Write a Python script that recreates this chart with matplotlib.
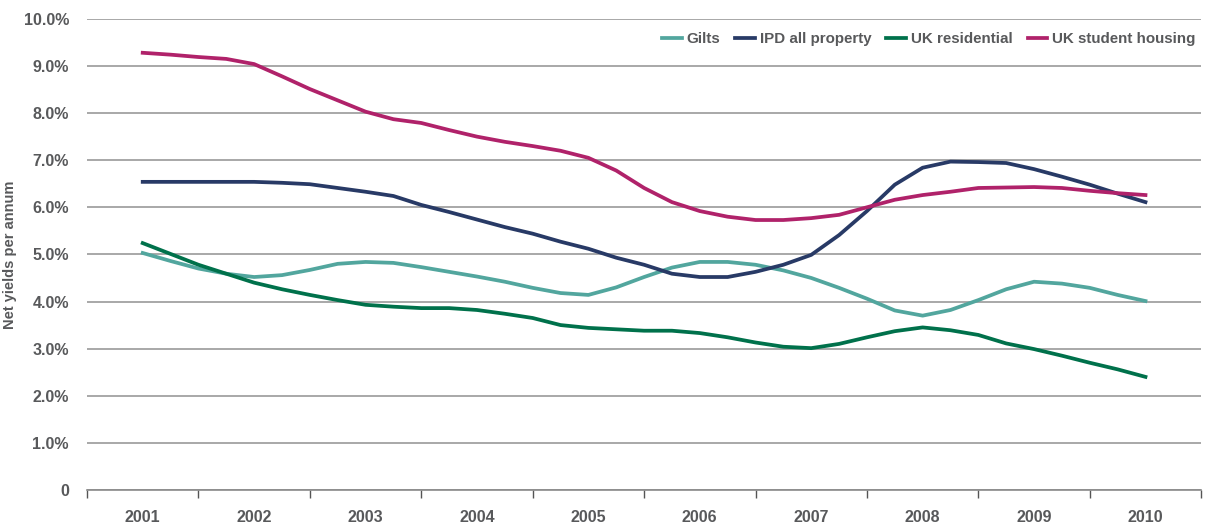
import numpy as np
import matplotlib
matplotlib.use("Agg")
import matplotlib.pyplot as plt

# quarterly readings, 2001 to 2010
years = [2001, 2002, 2003, 2004, 2005, 2006, 2007, 2008, 2009, 2010]
quarters = np.arange(37) * 0.25 + 2001

gilts = [5.03, 4.86, 4.70, 4.59, 4.52, 4.56, 4.67, 4.80, 4.84, 4.82,
         4.73, 4.63, 4.53, 4.42, 4.29, 4.18, 4.14, 4.30, 4.52, 4.72,
         4.84, 4.84, 4.78, 4.66, 4.50, 4.29, 4.06, 3.81, 3.70, 3.82,
         4.03, 4.26, 4.42, 4.38, 4.29, 4.14, 4.01]
ipd = [6.54, 6.54, 6.54, 6.54, 6.54, 6.52, 6.49, 6.41, 6.33, 6.24,
       6.05, 5.90, 5.74, 5.58, 5.44, 5.27, 5.12, 4.93, 4.78, 4.59,
       4.52, 4.52, 4.63, 4.78, 4.99, 5.41, 5.92, 6.48, 6.84, 6.97,
       6.96, 6.94, 6.81, 6.65, 6.48, 6.29, 6.11]
residential = [5.24, 5.01, 4.78, 4.59, 4.40, 4.26, 4.14, 4.03, 3.93, 3.89,
               3.86, 3.86, 3.82, 3.74, 3.65, 3.50, 3.44, 3.41, 3.38, 3.38,
               3.33, 3.24, 3.13, 3.04, 3.01, 3.10, 3.24, 3.37, 3.45, 3.39,
               3.29, 3.11, 2.99, 2.85, 2.70, 2.56, 2.40]
student = [9.28, 9.24, 9.19, 9.15, 9.04, 8.78, 8.51, 8.27, 8.03, 7.87,
           7.79, 7.64, 7.50, 7.39, 7.30, 7.20, 7.05, 6.78, 6.41, 6.11,
           5.92, 5.80, 5.73, 5.73, 5.77, 5.84, 6.00, 6.16, 6.26, 6.33,
           6.41, 6.42, 6.43, 6.41, 6.35, 6.30, 6.26]

series = [
    ("Gilts", gilts, "#52a69e"),
    ("IPD all property", ipd, "#283a66"),
    ("UK residential", residential, "#00714b"),
    ("UK student housing", student, "#b0226a"),
]

plt.rcParams["font.family"] = ["Liberation Sans", "DejaVu Sans"]
txt = "#58595b"

fig = plt.figure(figsize=(12.17, 5.24), dpi=100)
ax = fig.add_axes([0.0715, 0.065, 0.9155, 0.899])

for name, vals, col in series:
    ax.plot(quarters, vals, color=col, lw=2.7, label=name, solid_joinstyle="round")

ax.set_xlim(2000.5, 2010.5)
ax.set_ylim(0, 10)
ax.set_yticks(np.arange(0, 11))
ax.set_yticklabels(["0"] + ["%.1f%%" % v for v in range(1, 11)])
ax.yaxis.grid(True, color="#9a9a9a", lw=1.2)
ax.set_axisbelow(True)

ax.set_xticks(np.arange(2000.5, 2011, 1))
ax.set_xticklabels([])
ax.set_xticks(years, minor=True)
ax.set_xticklabels([str(y) for y in years], minor=True)
ax.tick_params(axis="x", which="major", direction="out", length=6, color="#555555", width=1)
ax.tick_params(axis="x", which="minor", length=0, pad=14.5)
ax.tick_params(axis="y", length=0, pad=13)

for lab in ax.get_xticklabels(minor=True) + ax.get_yticklabels():
    lab.set_fontweight("bold")
    lab.set_fontsize(11.5)
    lab.set_color(txt)

for s in ["top", "right", "left"]:
    ax.spines[s].set_visible(False)
ax.spines["bottom"].set_color("#8a8a8a")
ax.spines["bottom"].set_linewidth(1.2)

ax.set_ylabel("Net yields per annum", fontsize=10.5, fontweight="bold", color=txt)
ax.yaxis.set_label_coords(-0.0625, 0.5)

leg = ax.legend(loc="upper right", ncol=4, frameon=False, handlelength=1.3,
                handletextpad=0.3, columnspacing=1.0, bbox_to_anchor=(1.0, 0.985),
                borderaxespad=0.0, prop={"weight": "bold", "size": 10.9})
for t in leg.get_texts():
    t.set_color(txt)

fig.savefig("out.png", dpi=100)
